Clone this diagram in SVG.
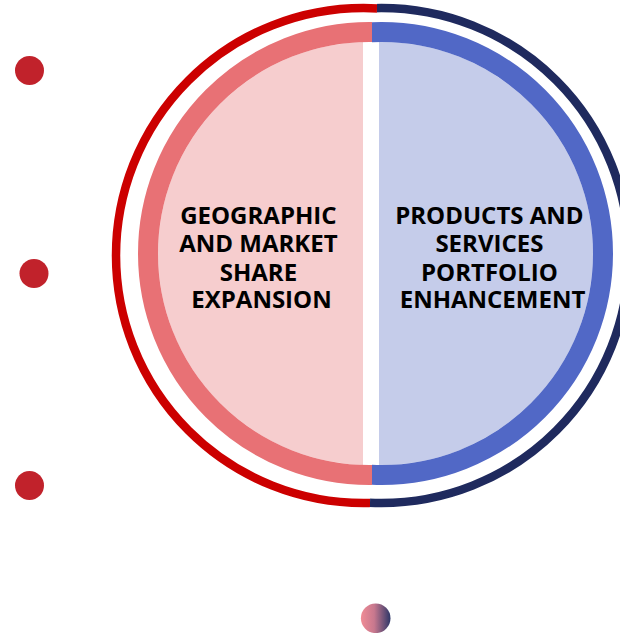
<svg xmlns="http://www.w3.org/2000/svg" width="620" height="633" viewBox="0 0 620 633">
  <defs>
    <linearGradient id="dotGrad" x1="0" y1="0" x2="1" y2="0">
      <stop offset="0" stop-color="#F08C95"/>
      <stop offset="0.45" stop-color="#C7788E"/>
      <stop offset="1" stop-color="#2E3768"/>
    </linearGradient>
    <clipPath id="clipRingL"><polygon points="0,0 377.1,0 368.2,633 0,633"/></clipPath>
    <clipPath id="clipRingR"><polygon points="377.1,0 620,0 620,633 368.2,633"/></clipPath>
    <clipPath id="clipBandL"><rect x="0" y="0" width="372" height="633"/></clipPath>
    <clipPath id="clipBandR"><rect x="372" y="0" width="248" height="633"/></clipPath>
    <clipPath id="clipFillL"><rect x="0" y="0" width="363" height="633"/></clipPath>
    <clipPath id="clipFillR"><rect x="379" y="0" width="241" height="633"/></clipPath>
  </defs>
  <style>
    .ring { fill: none; stroke-width: 8.5; }
    .band { fill: none; stroke-width: 20; }
    .dot { fill: #C1222B; }
    .label { font-family: "Open Sans", "Noto Sans", "DejaVu Sans", sans-serif; font-weight: 700; font-size: 24px; fill: #000000; text-anchor: middle; }
  </style>
  <rect x="0" y="0" width="620" height="633" fill="#FFFFFF"/>

  <g id="node-geographic">
    <circle cx="369.5" cy="253.5" r="211.5" fill="#F6CDCE" clip-path="url(#clipFillL)"/>
    <circle class="band" cx="369.5" cy="253.5" r="221.5" stroke="#E87175" clip-path="url(#clipBandL)"/>
    <circle class="ring" cx="363.5" cy="255.5" r="247.5" stroke="#CC0000" clip-path="url(#clipRingL)"/>
    <text class="label">
      <tspan x="261.5" y="223.5">GEOGRAPHIC</tspan>
      <tspan x="261.5" y="252">AND MARKET</tspan>
      <tspan x="261.5" y="280.5">SHARE</tspan>
      <tspan x="261.5" y="307.5">EXPANSION</tspan>
    </text>
  </g>

  <g id="node-products">
    <circle cx="381.5" cy="253.5" r="211.5" fill="#C5CCEA" clip-path="url(#clipFillR)"/>
    <circle class="band" cx="381.5" cy="253.5" r="221.5" stroke="#5168C6" clip-path="url(#clipBandR)"/>
    <circle class="ring" cx="381.4" cy="255.5" r="247.5" stroke="#1F2A5E" clip-path="url(#clipRingR)"/>
    <text class="label">
      <tspan x="492.5" y="223.5">PRODUCTS AND</tspan>
      <tspan x="492.5" y="252">SERVICES</tspan>
      <tspan x="492.5" y="280.5">PORTFOLIO</tspan>
      <tspan x="492.5" y="308">ENHANCEMENT</tspan>
    </text>
  </g>

  <g id="dot-1"><circle class="dot" cx="29.5" cy="70.5" r="14.5"/></g>
  <g id="dot-2"><circle class="dot" cx="34" cy="273.5" r="14.5"/></g>
  <g id="dot-3"><circle class="dot" cx="29.5" cy="485.5" r="14.5"/></g>
  <g id="dot-4"><circle cx="375.7" cy="618.3" r="14.8" fill="url(#dotGrad)"/></g>
</svg>
